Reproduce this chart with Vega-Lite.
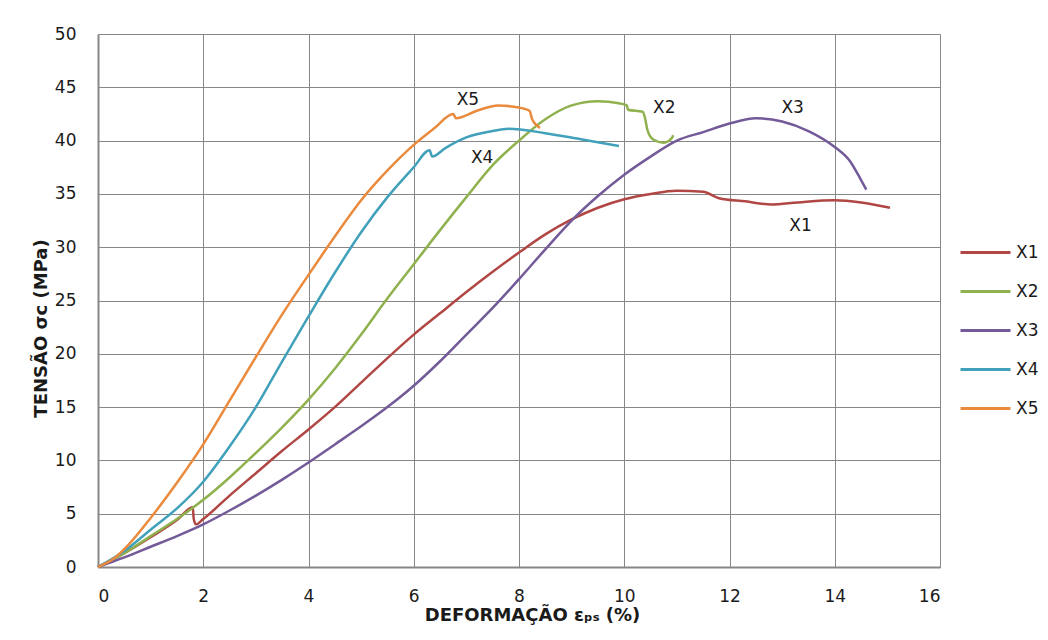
{
  "$schema": "https://vega.github.io/schema/vega-lite/v6.json",
  "width": 842,
  "height": 533,
  "autosize": {"type": "none"},
  "padding": {"left": 98, "top": 34, "right": 108, "bottom": 73},
  "background": "white",
  "config": {
    "view": {"stroke": null},
    "font": "DejaVu Sans",
    "axis": {
      "gridColor": "#878787",
      "gridWidth": 1,
      "gridOpacity": 1,
      "domainColor": "#878787",
      "domainWidth": 2,
      "ticks": false,
      "labelFont": "DejaVu Sans",
      "labelFontSize": 17,
      "labelColor": "#1a1a1a",
      "titleFont": "DejaVu Sans",
      "titleFontWeight": "bold",
      "titleFontSize": 18,
      "titleColor": "#1a1a1a"
    }
  },
  "layer": [
    {
      "data": {"values": [
        {"s":"X1","x":0,"y":0},{"s":"X1","x":0.5,"y":1.3},{"s":"X1","x":1,"y":2.8},{"s":"X1","x":1.5,"y":4.4},{"s":"X1","x":1.8,"y":5.6},{"s":"X1","x":1.82,"y":4.5},{"s":"X1","x":1.86,"y":4.0},{"s":"X1","x":2,"y":4.5},{"s":"X1","x":2.5,"y":6.7},{"s":"X1","x":3,"y":8.8},{"s":"X1","x":3.5,"y":10.9},{"s":"X1","x":4,"y":12.9},{"s":"X1","x":4.5,"y":15},{"s":"X1","x":5,"y":17.3},{"s":"X1","x":5.5,"y":19.6},{"s":"X1","x":6,"y":21.8},{"s":"X1","x":6.5,"y":23.8},{"s":"X1","x":7,"y":25.8},{"s":"X1","x":7.5,"y":27.7},{"s":"X1","x":8,"y":29.5},{"s":"X1","x":8.5,"y":31.2},{"s":"X1","x":9,"y":32.6},{"s":"X1","x":9.5,"y":33.7},{"s":"X1","x":10,"y":34.5},{"s":"X1","x":10.5,"y":35},{"s":"X1","x":11,"y":35.3},{"s":"X1","x":11.5,"y":35.2},{"s":"X1","x":11.8,"y":34.6},{"s":"X1","x":12.3,"y":34.3},{"s":"X1","x":12.8,"y":34},{"s":"X1","x":13.3,"y":34.2},{"s":"X1","x":14,"y":34.4},{"s":"X1","x":14.5,"y":34.2},{"s":"X1","x":15.05,"y":33.7},
        {"s":"X2","x":0,"y":0},{"s":"X2","x":0.5,"y":1.3},{"s":"X2","x":1,"y":2.9},{"s":"X2","x":1.5,"y":4.5},{"s":"X2","x":2,"y":6.3},{"s":"X2","x":2.5,"y":8.4},{"s":"X2","x":3,"y":10.7},{"s":"X2","x":3.5,"y":13.1},{"s":"X2","x":4,"y":15.7},{"s":"X2","x":4.5,"y":18.6},{"s":"X2","x":5,"y":21.8},{"s":"X2","x":5.5,"y":25.2},{"s":"X2","x":6,"y":28.4},{"s":"X2","x":6.5,"y":31.6},{"s":"X2","x":7,"y":34.7},{"s":"X2","x":7.5,"y":37.7},{"s":"X2","x":8,"y":40.0},{"s":"X2","x":8.5,"y":42.0},{"s":"X2","x":9,"y":43.3},{"s":"X2","x":9.5,"y":43.7},{"s":"X2","x":9.9,"y":43.5},{"s":"X2","x":10.05,"y":43.3},{"s":"X2","x":10.07,"y":42.9},{"s":"X2","x":10.35,"y":42.7},{"s":"X2","x":10.4,"y":42},{"s":"X2","x":10.44,"y":41},{"s":"X2","x":10.55,"y":40.1},{"s":"X2","x":10.75,"y":39.8},{"s":"X2","x":10.9,"y":40.2},{"s":"X2","x":10.93,"y":40.5},
        {"s":"X3","x":0,"y":0},{"s":"X3","x":0.5,"y":0.9},{"s":"X3","x":1,"y":1.9},{"s":"X3","x":1.5,"y":2.9},{"s":"X3","x":2,"y":4},{"s":"X3","x":2.5,"y":5.3},{"s":"X3","x":3,"y":6.7},{"s":"X3","x":3.5,"y":8.2},{"s":"X3","x":4,"y":9.8},{"s":"X3","x":4.5,"y":11.5},{"s":"X3","x":5,"y":13.2},{"s":"X3","x":5.5,"y":15},{"s":"X3","x":6,"y":17},{"s":"X3","x":6.5,"y":19.3},{"s":"X3","x":7,"y":21.8},{"s":"X3","x":7.5,"y":24.3},{"s":"X3","x":8,"y":27},{"s":"X3","x":8.5,"y":29.8},{"s":"X3","x":9,"y":32.5},{"s":"X3","x":9.5,"y":34.8},{"s":"X3","x":10,"y":36.8},{"s":"X3","x":10.5,"y":38.5},{"s":"X3","x":11,"y":40},{"s":"X3","x":11.5,"y":40.8},{"s":"X3","x":12,"y":41.6},{"s":"X3","x":12.5,"y":42.1},{"s":"X3","x":13,"y":41.8},{"s":"X3","x":13.5,"y":40.9},{"s":"X3","x":14,"y":39.4},{"s":"X3","x":14.3,"y":38},{"s":"X3","x":14.5,"y":36.3},{"s":"X3","x":14.6,"y":35.4},
        {"s":"X4","x":0,"y":0},{"s":"X4","x":0.5,"y":1.5},{"s":"X4","x":1,"y":3.5},{"s":"X4","x":1.5,"y":5.5},{"s":"X4","x":2,"y":8},{"s":"X4","x":2.5,"y":11.3},{"s":"X4","x":3,"y":15},{"s":"X4","x":3.5,"y":19.3},{"s":"X4","x":4,"y":23.5},{"s":"X4","x":4.5,"y":27.6},{"s":"X4","x":5,"y":31.4},{"s":"X4","x":5.5,"y":34.7},{"s":"X4","x":6,"y":37.5},{"s":"X4","x":6.3,"y":39.1},{"s":"X4","x":6.35,"y":38.5},{"s":"X4","x":6.6,"y":39.3},{"s":"X4","x":7,"y":40.3},{"s":"X4","x":7.5,"y":40.9},{"s":"X4","x":7.8,"y":41.1},{"s":"X4","x":8.5,"y":40.7},{"s":"X4","x":9.2,"y":40.1},{"s":"X4","x":9.9,"y":39.5},
        {"s":"X5","x":0,"y":0},{"s":"X5","x":0.3,"y":0.8},{"s":"X5","x":0.6,"y":2.2},{"s":"X5","x":1,"y":4.6},{"s":"X5","x":1.5,"y":7.9},{"s":"X5","x":2,"y":11.5},{"s":"X5","x":2.5,"y":15.6},{"s":"X5","x":3,"y":19.7},{"s":"X5","x":3.5,"y":23.7},{"s":"X5","x":4,"y":27.4},{"s":"X5","x":4.5,"y":31.0},{"s":"X5","x":5,"y":34.4},{"s":"X5","x":5.5,"y":37.2},{"s":"X5","x":6,"y":39.6},{"s":"X5","x":6.4,"y":41.2},{"s":"X5","x":6.75,"y":42.5},{"s":"X5","x":6.8,"y":42.1},{"s":"X5","x":7.2,"y":42.8},{"s":"X5","x":7.6,"y":43.3},{"s":"X5","x":8.0,"y":43.1},{"s":"X5","x":8.2,"y":42.8},{"s":"X5","x":8.25,"y":42},{"s":"X5","x":8.4,"y":41.2}
      ]},
      "mark": {"type": "line", "strokeWidth": 2.5, "interpolate": "monotone"},
      "encoding": {
        "x": {"field": "x", "type": "quantitative", "scale": {"domain": [0, 16], "nice": false},
              "axis": {"values": [0,2,4,6,8,10,12,14,16], "title": "DEFORMAÇÃO εₚₛ (%)", "labelPadding": 21, "titlePadding": 2, "titleX": 434}},
        "y": {"field": "y", "type": "quantitative", "scale": {"domain": [0, 50], "nice": false},
              "axis": {"values": [0,5,10,15,20,25,30,35,40,45,50], "title": "TENSÃO σc (MPa)", "labelPadding": 22, "titlePadding": 4, "titleY": 294}},
        "color": {"field": "s", "type": "nominal",
                  "scale": {"domain": ["X1","X2","X3","X4","X5"], "range": ["#B04744","#8FB14E","#735A98","#41A0BA","#EA8A3D"]},
                  "legend": {"title": null, "orient": "none", "legendX": 861, "legendY": 199, "symbolType": "stroke", "symbolSize": 2500, "symbolStrokeWidth": 3, "clipHeight": 39, "rowPadding": 0, "labelFont": "DejaVu Sans", "labelFontSize": 17, "labelColor": "#1a1a1a", "labelOffset": 4}}
      }
    },
    {
      "data": {"values": [
        {"t":"X5","x":7.03,"y":43.8},
        {"t":"X4","x":7.3,"y":38.4},
        {"t":"X2","x":10.76,"y":43.06},
        {"t":"X3","x":13.2,"y":43.06},
        {"t":"X1","x":13.35,"y":32.0}
      ]},
      "mark": {"type": "text", "font": "DejaVu Sans", "fontSize": 17, "color": "#1a1a1a"},
      "encoding": {
        "x": {"field": "x", "type": "quantitative"},
        "y": {"field": "y", "type": "quantitative"},
        "text": {"field": "t"}
      }
    }
  ]
}
